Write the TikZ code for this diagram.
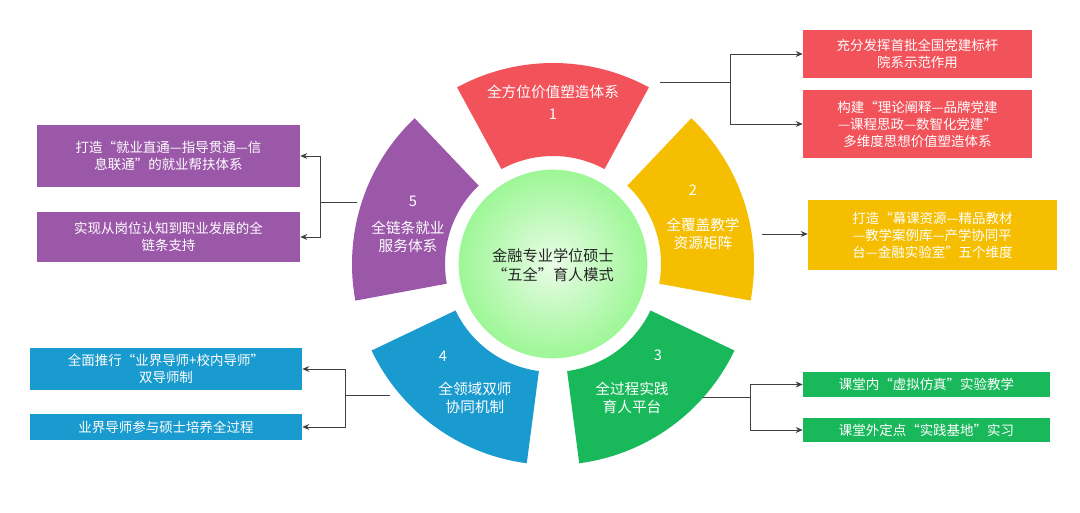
\documentclass[tikz,border=0pt]{standalone}
\usepackage{fontspec}
\setmainfont{Noto Sans CJK SC}
\usetikzlibrary{arrows.meta}
\definecolor{cR}{HTML}{F2525A}
\definecolor{cY}{HTML}{F5BE00}
\definecolor{cG}{HTML}{19B85A}
\definecolor{cB}{HTML}{1A9BCF}
\definecolor{cP}{HTML}{9B58A9}
\definecolor{cL}{HTML}{B8F5B0}
\tikzset{
 box/.style={draw=none,text=white,inner sep=2pt,align=center,font=\fontsize{11.5}{14.5}\selectfont},
 ptxt/.style={text=white,align=center,font=\fontsize{12.5}{15.5}\selectfont},
 conn/.style={draw=black!75,line width=0.8pt},
 arr/.style={conn,-{Stealth[length=6pt,width=5pt]}}
}
\begin{document}
\begin{tikzpicture}[x=0.03cm,y=0.03cm]
\useasboundingbox (0,0) rectangle (1080,-513);
\begin{scope}[shift={(553,-264)}]
\foreach \a/\c in {90/cR,18/cY,-54/cG,-126/cB,162/cP}{
 \fill[\c] (\a-28.5:108) -- (\a-28.5:201) arc[start angle=\a-28.5,end angle=\a+28.5,radius=6.03cm] -- (\a+28.5:108) arc[start angle=\a+28.5,end angle=\a-28.5,radius=3.24cm] -- cycle;
}
\end{scope}
\node[circle,minimum size=5.7cm,inner sep=0,draw=white,line width=1pt,inner color=white!70!cL,outer color=cL!85!green] (c) at (553,-264) {};
\node[align=center,font=\fontsize{13}{16.5}\selectfont,text=black!85] (ct) at (553,-265) {金融专业学位硕士\\“五全”育人模式};
% petal texts
\node[ptxt] (p1) at (553,-92) {全方位价值塑造体系};
\node[ptxt] (n1) at (553,-114) {1};
\node[ptxt] (n2) at (693,-190) {2};
\node[ptxt] (p2) at (703,-234) {全覆盖教学\\资源矩阵};
\node[ptxt] (n3) at (658,-355) {3};
\node[ptxt] (p3) at (632,-398) {全过程实践\\育人平台};
\node[ptxt] (n4) at (443,-356) {4};
\node[ptxt] (p4) at (475,-398) {全领域双师\\协同机制};
\node[ptxt] (n5) at (413,-201) {5};
\node[ptxt] (p5) at (408,-237) {全链条就业\\服务体系};
% boxes
\node[box,fill=cR,minimum width=6.87cm,minimum height=1.44cm] (r1) at (917.5,-54) {充分发挥首批全国党建标杆\\院系示范作用};
\node[box,fill=cR,minimum width=6.87cm,minimum height=2.04cm] (r2) at (917.5,-124) {构建“理论阐释—品牌党建\\—课程思政—数智化党建”\\多维度思想价值塑造体系};
\node[box,fill=cY,minimum width=7.47cm,minimum height=2.1cm] (y1) at (932.5,-235) {打造“幕课资源—精品教材\\—教学案例库—产学协同平\\台—金融实验室”五个维度};
\node[box,fill=cG,minimum width=7.41cm,minimum height=0.72cm] (g1) at (926.5,-384.5) {课堂内“虚拟仿真”实验教学};
\node[box,fill=cG,minimum width=7.41cm,minimum height=0.72cm] (g2) at (926.5,-430) {课堂外定点“实践基地”实习};
\node[box,fill=cB,minimum width=8.16cm,minimum height=1.26cm] (b1) at (166,-369) {全面推行“业界导师+校内导师”\\双导师制};
\node[box,fill=cB,minimum width=8.16cm,minimum height=0.78cm] (b2) at (166,-427) {业界导师参与硕士培养全过程};
\node[box,fill=cP,minimum width=7.89cm,minimum height=1.86cm] (q1) at (168.5,-156) {打造“就业直通—指导贯通—信\\息联通”的就业帮扶体系};
\node[box,fill=cP,minimum width=7.89cm,minimum height=1.5cm] (q2) at (168.5,-237) {实现从岗位认知到职业发展的全\\链条支持};
% connectors
\coordinate (rs) at (660,-82); \coordinate (rj) at (730,-82);
\draw[conn] (rs) -- (rj);
\draw[arr] (rj) |- (r1.west);
\draw[arr] (rj) |- (r2.west);
\coordinate (ys) at (762,-234);
\draw[arr] (ys) -- (y1.west |- ys);
\coordinate (gs) at (703,-397); \coordinate (gj) at (750,-397);
\draw[conn] (gs) -- (gj);
\draw[arr] (gj) |- (g1.west);
\draw[arr] (gj) |- (g2.west);
\coordinate (bs) at (390,-395); \coordinate (bj) at (345,-395);
\draw[conn] (bs) -- (bj);
\draw[arr] (bj) |- (b1.east);
\draw[arr] (bj) |- (b2.east);
\coordinate (qs) at (357,-202); \coordinate (qj) at (320,-202);
\draw[conn] (qs) -- (qj);
\draw[arr] (qj) |- (q1.east);
\draw[arr] (qj) |- (q2.east);
\end{tikzpicture}
\end{document}
